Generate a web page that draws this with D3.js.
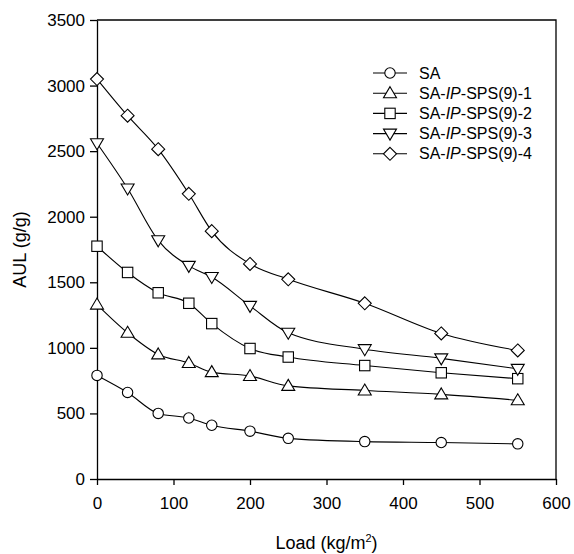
<!DOCTYPE html>
<html>
<head>
<meta charset="utf-8">
<script src="https://cdn.jsdelivr.net/npm/d3@7"></script>
<style>
  body { margin: 0; background: #fff; }
  text { font-family: "Liberation Sans", Arial, sans-serif; fill: #000; }
</style>
</head>
<body>
<svg id="chart"></svg>
<script>
// Size of the page and the plot box
const width = 574, height = 554;
const margin = { top: 20, right: 18, bottom: 75, left: 97 };

// Data
const loads = [0, 40, 80, 120, 150, 200, 250, 350, 450, 550];
const seriesNames = ["SA", "SA-IP-SPS(9)-1", "SA-IP-SPS(9)-2", "SA-IP-SPS(9)-3", "SA-IP-SPS(9)-4"];
const sa   = [790, 660, 500, 465, 410, 365, 310, 285, 278, 268];
const sps1 = [1330, 1115, 950, 885, 815, 785, 710, 675, 645, 600];
const sps2 = [1775, 1575, 1420, 1340, 1185, 995, 930, 865, 810, 765];
const sps3 = [2560, 2215, 1820, 1625, 1540, 1320, 1115, 990, 920, 840];
const sps4 = [3050, 2770, 2515, 2175, 1890, 1640, 1523, 1340, 1110, 980];
const xTicks = [0, 100, 200, 300, 400, 500, 600];
const yTicks = [0, 500, 1000, 1500, 2000, 2500, 3000, 3500];

const allSeries = [sa, sps1, sps2, sps3, sps4];
const symbols = ["circle", "triUp", "square", "triDown", "diamond"];

const svg = d3.select("#chart").attr("width", width).attr("height", height);

const x = d3.scaleLinear().domain([0, 600]).range([margin.left, width - margin.right]);
const y = d3.scaleLinear().domain([0, 3500]).range([height - margin.bottom, margin.top]);

// Axes
const xAxis = svg.append("g")
  .attr("transform", `translate(0,${height - margin.bottom})`)
  .call(d3.axisBottom(x).tickValues(xTicks).tickFormat(d3.format("d"))
    .tickSizeInner(6).tickSizeOuter(0).tickPadding(12));
const yAxis = svg.append("g")
  .attr("transform", `translate(${margin.left},0)`)
  .call(d3.axisLeft(y).tickValues(yTicks).tickFormat(d3.format("d"))
    .tickSizeInner(7).tickSizeOuter(0).tickPadding(5));

[xAxis, yAxis].forEach(g => {
  g.selectAll("path, line").attr("stroke", "#000").attr("stroke-width", 1.3);
  g.selectAll("text").style("font-size", "17px").attr("fill", "#000");
});

// top and right border of the box
svg.append("path")
  .attr("d", `M${x(0)},${y(3500)}H${x(600)}V${y(0)}`)
  .attr("fill", "none")
  .attr("stroke", "#000")
  .attr("stroke-width", 1.3);

// Marker drawing
function marker(g, kind, cx, cy) {
  if (kind === "circle") {
    g.append("circle").attr("cx", cx).attr("cy", cy).attr("r", 5.2);
  } else if (kind === "square") {
    g.append("rect").attr("x", cx - 5.2).attr("y", cy - 5.2).attr("width", 10.4).attr("height", 10.4);
  } else if (kind === "triUp") {
    g.append("path").attr("d", `M${cx},${cy - 6.5}L${cx + 6.5},${cy + 4.5}L${cx - 6.5},${cy + 4.5}Z`);
  } else if (kind === "triDown") {
    g.append("path").attr("d", `M${cx},${cy + 6.5}L${cx + 6.5},${cy - 4.5}L${cx - 6.5},${cy - 4.5}Z`);
  } else if (kind === "diamond") {
    g.append("path").attr("d", `M${cx},${cy - 6.5}L${cx + 6.5},${cy}L${cx},${cy + 6.5}L${cx - 6.5},${cy}Z`);
  }
}

const line = d3.line()
  .x((d, i) => x(loads[i]))
  .y(d => y(d))
  .curve(d3.curveMonotoneX);

allSeries.forEach((vals, k) => {
  svg.append("path")
    .attr("d", line(vals))
    .attr("fill", "none")
    .attr("stroke", "#000")
    .attr("stroke-width", 1.1);
  const g = svg.append("g").attr("fill", "#fff").attr("stroke", "#000").attr("stroke-width", 1.1);
  vals.forEach((v, i) => marker(g, symbols[k], x(loads[i]), y(v)));
});

// Legend
const legend = svg.append("g");
seriesNames.forEach((name, k) => {
  const ly = 73 + k * 20.2;
  legend.append("line")
    .attr("x1", 373).attr("x2", 407).attr("y1", ly).attr("y2", ly)
    .attr("stroke", "#000").attr("stroke-width", 1.1);
  const g = legend.append("g").attr("fill", "#fff").attr("stroke", "#000").attr("stroke-width", 1.1);
  marker(g, symbols[k], 390, ly);
  const t = legend.append("text")
    .attr("x", 419).attr("y", ly + 5.5)
    .style("font-size", "16px");
  if (name === "SA") {
    t.text("SA");
  } else {
    t.append("tspan").text("SA-");
    t.append("tspan").attr("font-style", "italic").text("IP");
    t.append("tspan").text(name.slice(5));
  }
});

// Axis titles
const xt = svg.append("text")
  .attr("x", (x(0) + x(600)) / 2)
  .attr("y", 549)
  .attr("text-anchor", "middle")
  .style("font-size", "18px");
xt.append("tspan").text("Load (kg/m");
xt.append("tspan").attr("dy", -7).style("font-size", "11px").text("2");
xt.append("tspan").attr("dy", 7).text(")");

svg.append("text")
  .attr("transform", `translate(26,${(y(0) + y(3500)) / 2}) rotate(-90)`)
  .attr("text-anchor", "middle")
  .style("font-size", "18px")
  .text("AUL (g/g)");
</script>
</body>
</html>
